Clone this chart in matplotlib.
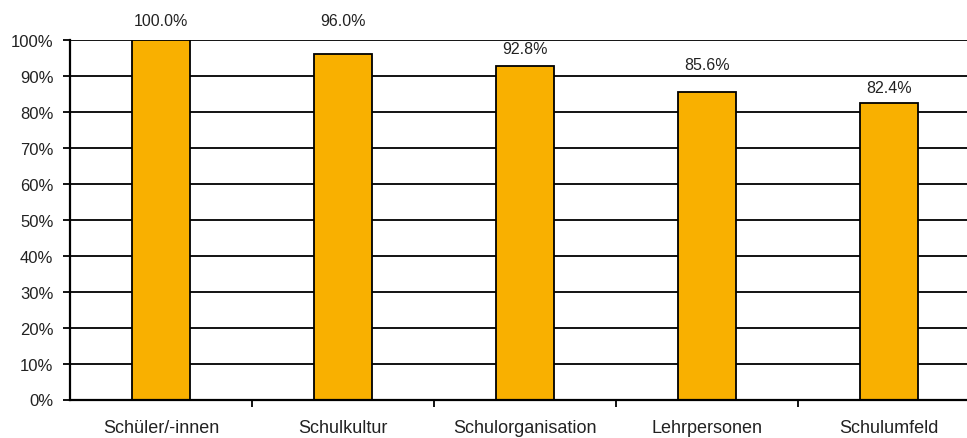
import matplotlib
matplotlib.use("Agg")
import matplotlib.pyplot as plt
from matplotlib.ticker import MultipleLocator, FuncFormatter, FixedLocator

categories = ["Schüler/-innen", "Schulkultur", "Schulorganisation", "Lehrpersonen", "Schulumfeld"]
values = [100.0, 96.0, 92.8, 85.6, 82.4]

# label offsets above bar top (in points), layout only
label_offsets = [9, 19, 7, 14, 6]

plt.rcParams['font.family'] = ['Liberation Sans', 'DejaVu Sans']

fig = plt.figure(figsize=(9.67, 4.39), dpi=100)
ax = fig.add_axes([70/967, (439-400.5)/439, 910/967, 359.5/439])

x = list(range(len(categories)))
ax.bar(x, values, width=0.315, color="#F9B000", edgecolor="black", linewidth=1.3, zorder=3)
for xi, v, off in zip(x, values, label_offsets):
    ax.annotate(f"{v:.1f}%", (xi, v), xytext=(0, off), textcoords="offset points",
                ha="center", va="bottom", fontsize=11.5, color="#222222")

ax.set_xlim(-0.5, len(categories) - 0.5)
ax.set_ylim(0, 100)
ax.yaxis.set_major_locator(MultipleLocator(10))
ax.yaxis.set_major_formatter(FuncFormatter(lambda v, p: f"{v:.0f}%"))
ax.grid(axis="y", color="black", linewidth=1.3, zorder=0)
ax.set_axisbelow(True)

ax.xaxis.set_major_locator(FixedLocator([i + 0.5 for i in x]))
ax.xaxis.set_major_formatter(FuncFormatter(lambda v, p: ""))
ax.xaxis.set_minor_locator(FixedLocator(x))
ax.set_xticklabels(categories, minor=True)
ax.tick_params(axis="x", which="minor", length=0, pad=14, labelsize=13, colors="#222222")
ax.tick_params(axis="x", which="major", length=5, width=1.3, direction="out")
ax.tick_params(axis="y", length=5, width=1.3, direction="out", labelsize=12, labelcolor="#222222", pad=7)

for s in ["top", "right"]:
    ax.spines[s].set_visible(False)
for s in ["left", "bottom"]:
    ax.spines[s].set_linewidth(1.6)
ax.spines["left"].set_zorder(4)
ax.spines["bottom"].set_zorder(4)

fig.savefig("out.png", dpi=100)
